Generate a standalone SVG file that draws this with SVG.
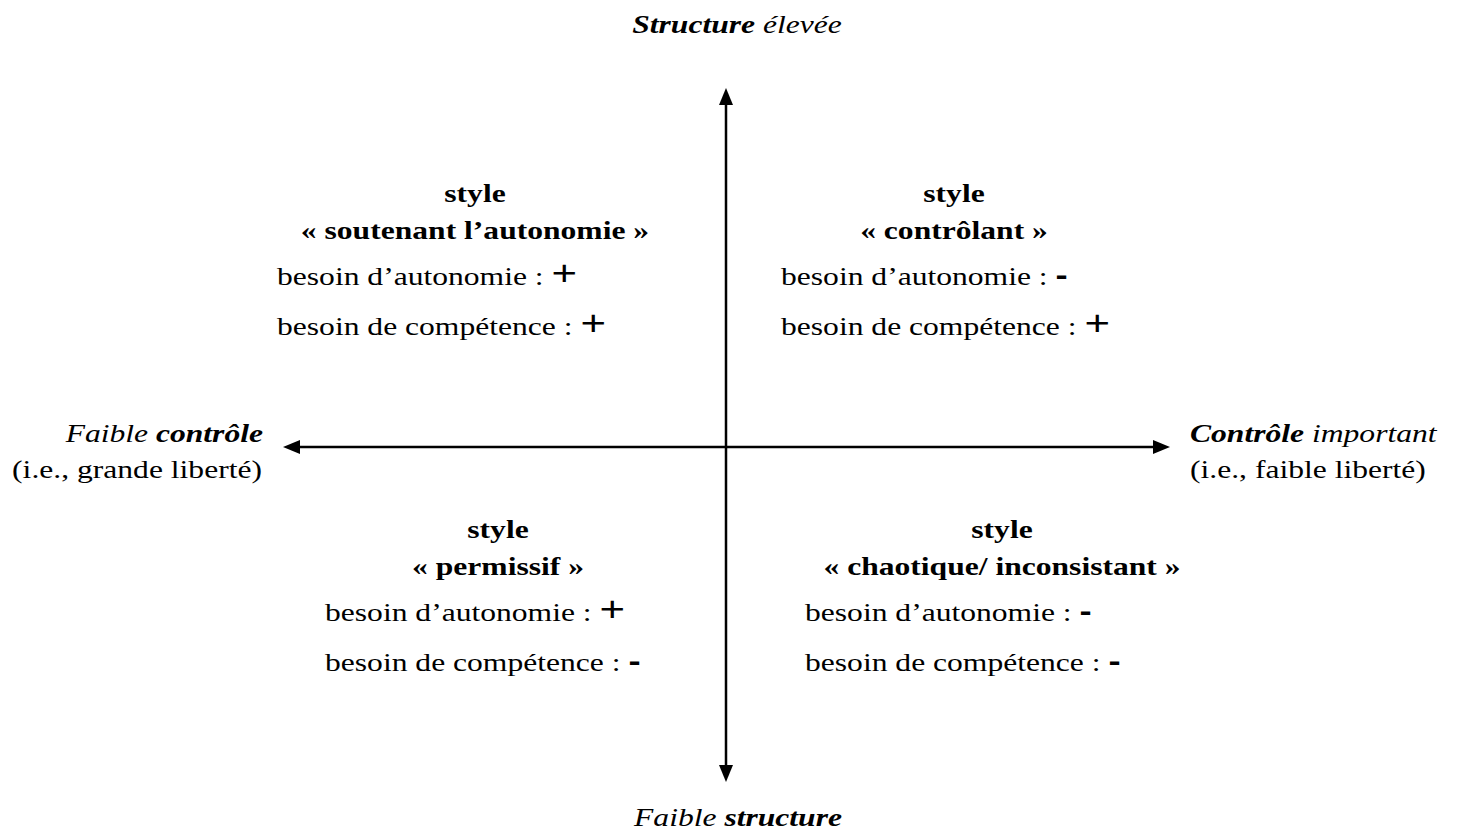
<svg xmlns="http://www.w3.org/2000/svg" width="1458" height="832" viewBox="0 0 1458 832">
<style>
text{font-family:"Liberation Serif","Times New Roman",serif;font-size:26px;fill:#000}
.b{font-weight:bold}
.i{font-style:italic}
.c{text-anchor:middle}
.r{text-anchor:end}
.plus{font-family:"Liberation Sans",Arial,sans-serif;font-size:36px}
.minus{font-family:"Liberation Sans",Arial,sans-serif;font-size:30px;font-weight:bold}
.ax{stroke:#000;stroke-width:2.5;fill:none}
</style>
<g id="connectors">
<line class="ax" x1="726" y1="104" x2="726" y2="766"/>
<path d="M726,88 L719,105 L733,105 z" fill="#000"/>
<path d="M726,782 L719,765 L733,765 z" fill="#000"/>
<line class="ax" x1="298" y1="447" x2="1155" y2="447"/>
<path d="M283,447 L300,440 L300,454 z" fill="#000"/>
<path d="M1170,447 L1153,440 L1153,454 z" fill="#000"/>
</g>
<g id="top-label"><text transform="translate(737,33) scale(1.215,1)" class="c i"><tspan class="b">Structure</tspan> élevée</text></g>
<g id="bottom-label"><text transform="translate(738,826) scale(1.215,1)" class="c i">Faible <tspan class="b">structure</tspan></text></g>
<g id="left-label">
<text transform="translate(263,442) scale(1.215,1)" class="r i">Faible <tspan class="b">contrôle</tspan></text>
<text transform="translate(262,478) scale(1.215,1)" class="r">(i.e., grande liberté)</text>
</g>
<g id="right-label">
<text transform="translate(1190,442) scale(1.215,1)" class="i"><tspan class="b">Contrôle</tspan> important</text>
<text transform="translate(1190,478) scale(1.215,1)">(i.e., faible liberté)</text>
</g>
<g id="q-autonomie">
<text transform="translate(475,202) scale(1.215,1)" class="c b">style</text>
<text transform="translate(475,239) scale(1.215,1)" class="c b">« soutenant l’autonomie »</text>
<text transform="translate(277,285) scale(1.215,1)">besoin d’autonomie : <tspan class="plus">+</tspan></text>
<text transform="translate(277,335) scale(1.215,1)">besoin de compétence : <tspan class="plus">+</tspan></text>
</g>
<g id="q-controlant">
<text transform="translate(954,202) scale(1.215,1)" class="c b">style</text>
<text transform="translate(954,239) scale(1.215,1)" class="c b">« contrôlant »</text>
<text transform="translate(781,285) scale(1.215,1)">besoin d’autonomie : <tspan class="minus">-</tspan></text>
<text transform="translate(781,335) scale(1.215,1)">besoin de compétence : <tspan class="plus">+</tspan></text>
</g>
<g id="q-permissif">
<text transform="translate(498,538) scale(1.215,1)" class="c b">style</text>
<text transform="translate(498,575) scale(1.215,1)" class="c b">« permissif »</text>
<text transform="translate(325,621) scale(1.215,1)">besoin d’autonomie : <tspan class="plus">+</tspan></text>
<text transform="translate(325,671) scale(1.215,1)">besoin de compétence : <tspan class="minus">-</tspan></text>
</g>
<g id="q-chaotique">
<text transform="translate(1002,538) scale(1.215,1)" class="c b">style</text>
<text transform="translate(1002,575) scale(1.215,1)" class="c b">« chaotique/ inconsistant »</text>
<text transform="translate(805,621) scale(1.215,1)">besoin d’autonomie : <tspan class="minus">-</tspan></text>
<text transform="translate(805,671) scale(1.215,1)">besoin de compétence : <tspan class="minus">-</tspan></text>
</g>
</svg>
